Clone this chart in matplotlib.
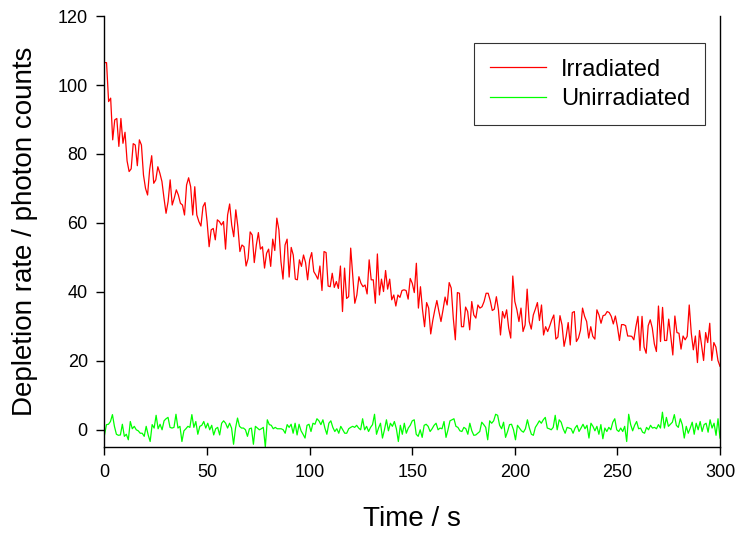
import numpy as np
import matplotlib
matplotlib.use("Agg")
import matplotlib.pyplot as plt

plt.rcParams['font.family'] = ['Liberation Sans', 'DejaVu Sans']

# valores (1 punto por segundo aprox.)
irradiated = [
    106.5, 106.5, 95.2, 96.2, 84.1, 89.9, 90.3, 82.2, 90.3, 83.1, 86.3, 78.0, 74.9, 75.7, 83.0, 82.6,
    76.6, 84.1, 82.6, 73.9, 70.0, 68.1, 75.4, 79.5, 71.5, 72.5, 76.3, 74.4, 72.0, 67.2, 62.8, 66.2,
    72.5, 65.2, 67.2, 69.6, 68.1, 65.7, 65.2, 62.3, 71.0, 73.1, 70.5, 62.3, 70.5, 62.3,
    60.4, 59.1, 64.7, 65.9, 60.4, 53.1, 58.0, 58.4, 55.1, 60.9, 60.4, 59.4, 60.4, 52.4, 62.3, 65.5,
    59.4, 56.0, 63.8, 58.9, 51.7, 53.6, 53.1, 47.5, 49.7, 57.4, 56.5, 48.5, 53.6, 57.2, 52.4, 53.1,
    46.9, 51.2, 52.4, 47.4, 55.3, 52.0, 61.4, 58.0, 48.8, 43.7, 53.6, 55.3, 44.3, 52.9, 50.7, 43.7,
    43.5, 49.3, 47.4, 50.7, 48.5, 43.5, 49.3,
    51.4, 45.9, 44.9, 43.7, 47.5, 40.4, 51.7, 51.4, 41.7, 41.5, 45.4, 41.3, 43.0, 41.0, 47.5, 34.3,
    46.9, 38.1, 38.6, 52.7, 44.9, 36.7, 39.1, 44.4, 42.5, 41.5, 42.0, 39.4, 49.3, 43.5, 43.5, 36.7,
    51.0, 39.1, 43.7, 40.1, 46.2, 40.8, 43.7, 37.7, 39.1, 35.9, 39.1, 38.4, 40.4, 40.6, 40.4, 37.9,
    43.9,
    42.5, 39.8, 48.3, 35.3, 41.5, 34.8, 29.9, 36.9, 35.3, 27.8, 31.7, 34.8, 37.5, 34.3, 31.4, 34.8,
    38.5, 36.2, 42.7, 41.1, 32.4, 26.1, 39.8, 39.6, 29.9, 29.9, 35.6, 34.3, 29.0, 37.2, 33.3, 32.4,
    36.2, 35.3, 35.7, 37.2, 39.6, 39.6, 37.5, 34.6, 35.0, 38.6, 34.8, 27.5, 34.3, 32.4, 34.8, 29.5,
    26.6,
    44.6, 37.2, 34.8, 31.4, 35.3, 28.5, 30.4, 40.8, 31.4, 29.2, 33.3, 35.0, 36.9, 31.7, 36.2, 27.5,
    29.9, 28.5, 30.1, 31.9, 33.3, 26.3, 26.9, 33.1, 30.4, 24.2, 27.1, 31.1, 24.6, 34.0, 34.3, 25.6,
    26.6, 28.9, 35.3, 32.9, 31.4, 26.6, 29.9, 27.1, 26.3, 34.8, 33.3, 30.9, 33.1, 33.3, 34.3,
    34.0, 32.9, 30.7, 33.0, 29.9, 25.9, 30.5, 30.5, 30.2, 27.2, 27.2, 27.1, 26.1, 29.9, 32.9, 23.0,
    32.9, 24.0, 22.2, 30.2, 31.9, 29.5, 24.9, 22.7, 35.9, 25.6, 35.5, 25.9, 25.9, 32.1, 27.1, 21.7,
    33.0, 28.2, 28.0, 23.4, 27.2, 26.1, 27.1, 36.2, 28.0, 23.2, 27.2, 19.5, 28.8, 24.6, 20.1, 28.2,
    25.3, 30.9, 20.1, 25.3, 24.0, 20.1, 18.4,
]

unirradiated = [
    -1.5, 1.5, 1.6, 2.4, 4.4, 1.0, -1.3, -1.6, -1.5, 1.6, -1.9, -1.3, -2.9, 2.4, 0.3, 1.0,
    0.0, -0.3, -1.0, -1.0, -1.9, 1.0, -1.5, -3.4, 1.5, 0.5, 4.2, 0.3, 1.6, 0.0, 2.6, 3.2,
    3.6, 0.7, 0.5, 0.7, 4.5, 0.5, 1.0, -3.4, -0.3, 0.3, 1.0, 0.7, 4.4, 0.7, 2.4, -1.3,
    1.0, 1.3, 2.4, 0.5, 1.9, 0.0, 1.3, -1.5, 0.3, 0.7, -1.5, 1.9, 2.6, 1.9, 0.5, 1.9,
    0.5, -4.2, 0.5, 3.4, 1.0, 0.5, 0.5, 0.0, -1.9, 0.3, 0.5, -4.2, 1.0, 0.5, 0.0,
    0.3, 0.7, -5.0, 2.9, 1.5, 1.3, 0.3, 0.7, 0.3, 0.3, 0.3, 0.0, -1.0, 1.5, 0.7, 1.6,
    -1.0, 1.9, -1.5, 1.6, -0.3, -1.3, -2.4, 1.3, 1.6, -0.5, 1.9, 1.6, 3.2, 2.6, 1.5, 2.9,
    0.5, -1.3, 1.9, 2.6, 0.7, -0.5, 0.3, -1.0, 1.0, 0.0, -1.0, -1.0, 0.3, 0.7, 1.0, 0.7,
    1.3, 0.5, 0.0, 3.2, 0.0, 1.0, -0.5, 0.7, 1.5, 4.5, -1.3, 0.5, 1.9, -2.4, 0.0, 2.9,
    -0.3, 1.9, 1.0, 2.4, 0.3, -3.4, 1.3, -1.3, 1.9, -1.0, 0.5, 1.3, 2.6, 2.9,
    -1.3, -1.9, 0.0, -2.2, 1.3, 1.6, 1.0, -0.5, 0.3, 1.3, 1.9, 0.0, 0.5, 0.3, 2.4, -2.2,
    0.0, 2.6, 2.9, 3.2, 1.0, 0.7, -0.3, -0.5, 0.7, 0.3, -1.3, 1.9, -0.3, -1.6, -1.5, -1.0,
    -0.5, 2.2, 1.5, 0.7, -2.9, 2.6, 1.9, 2.6, 4.5, 4.2, 1.3, 0.3, 2.2, -2.2, -0.5, 1.5,
    1.6, 0.0, -2.9, 1.3, 0.5, -0.3, -0.7, 0.3, 2.9, 0.5, -1.3, -1.6, 0.7, 1.6, 2.6, 1.9,
    2.9, 3.6, 0.5, 0.3, 0.0, 0.7, 4.2, 0.0, 2.9, 2.2, 0.3, -1.0, 0.7, 0.5,
    0.3, -1.0, 0.5, 1.3, -0.5, 0.5, 1.6, 0.3, 1.3, -2.4, 1.9, 1.0, -0.3, 1.0, -1.3, 1.5,
    -2.6, 0.5, -0.5, 0.7, 0.0, 2.2, 3.2, 0.0, -0.5, 0.5, -0.5, 1.0, -3.4, 4.5, 1.5, -0.3,
    1.3, 2.4, 0.3, 0.5, -0.7, -1.0, 0.7, 0.0, 1.3, 0.5, 0.7, 0.3, 1.5, 0.5, 5.1, 0.5,
    3.6, 1.0, 1.6, 2.2, 4.4, 1.3, 0.7, 3.2, 1.5, -2.4, 1.0, -1.0, 0.5, 2.2, -1.3, 1.9,
    0.0, 2.4, -0.5, 1.5, 1.9, -0.7, 2.9, 0.5, 1.9, -1.6, 3.2, -2.4,
]

t_irr = np.linspace(0, 300, len(irradiated))
t_unirr = np.linspace(0, 300, len(unirradiated))

fig = plt.figure(figsize=(7.39, 5.36), dpi=100)
ax = fig.add_axes([0.1414, 0.166, 0.8329, 0.804])

ax.plot(t_irr, irradiated, color='#ff0000', lw=0.9, label='Irradiated')
ax.plot(t_unirr, unirradiated, color='#00ff00', lw=0.9, label='Unirradiated')

ax.set_xlim(0, 300)
ax.set_ylim(-5, 120)
ax.set_xticks([0, 50, 100, 150, 200, 250, 300])
ax.set_yticks([0, 20, 40, 60, 80, 100, 120])
ax.tick_params(direction='out', length=6, width=1, labelsize=13, pad=6)
for s in ax.spines.values():
    s.set_linewidth(1)
ax.spines['top'].set_visible(False)

ax.set_xlabel('Time / s', fontsize=20, labelpad=18)
ax.set_ylabel('Depletion rate / photon counts', fontsize=20, labelpad=14)

leg = ax.legend(loc='upper right', bbox_to_anchor=(0.976, 0.937), borderaxespad=0,
                fontsize=17, fancybox=False, edgecolor='black', handlelength=2.4,
                borderpad=0.65, labelspacing=0.32, handletextpad=0.6)
leg.get_frame().set_linewidth(0.8)

fig.savefig('out.png', dpi=100)
